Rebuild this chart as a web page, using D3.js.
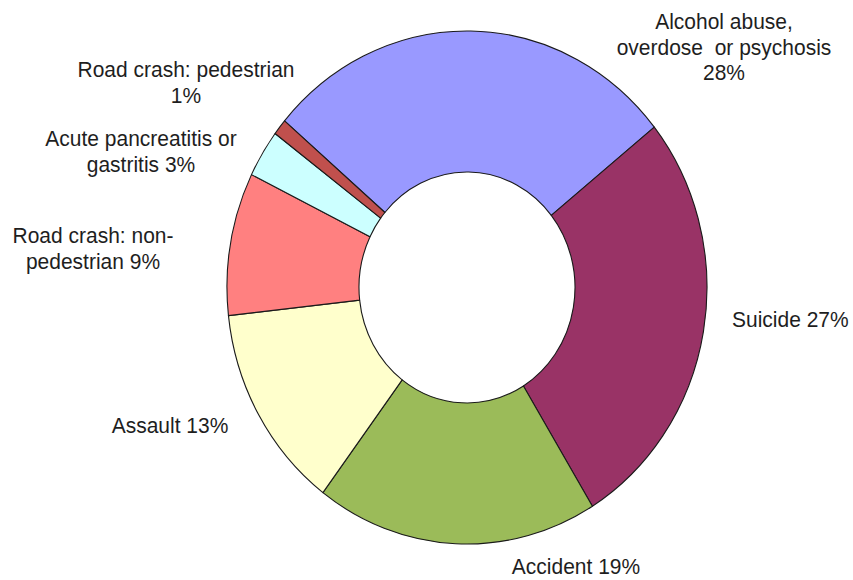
<!DOCTYPE html>
<html>
<head>
<meta charset="utf-8">
<script src="https://cdn.jsdelivr.net/npm/d3@7"></script>
<style>
  html, body { margin: 0; padding: 0; background: #ffffff; }
  svg { display: block; }
  text { font-family: "Liberation Sans", Arial, sans-serif; fill: #1e1e1e; white-space: pre; }
</style>
</head>
<body>
<div id="chart"></div>
<script>
// Causes of death, share of cases (%)
const categories = [
  "Alcohol abuse, overdose or psychosis",
  "Suicide",
  "Accident",
  "Assault",
  "Road crash: non-pedestrian",
  "Acute pancreatitis or gastritis",
  "Road crash: pedestrian"
];
const shares = [28, 27, 19, 13, 9, 3, 1];
const sliceColors = ["#9999ff", "#993366", "#9bbb59", "#ffffcc", "#ff8080", "#ccffff", "#c0504d"];

// Label wording per slice; {v} is replaced by the slice's share
const labelTemplates = [
  ["Alcohol abuse,", "overdose  or psychosis", "{v}%"],
  ["Suicide {v}%"],
  ["Accident {v}%"],
  ["Assault {v}%"],
  ["Road crash: non-", "pedestrian {v}%"],
  ["Acute pancreatitis or", "gastritis {v}%"],
  ["Road crash: pedestrian", "{v}%"]
];

const width = 853, height = 580;
const cx = 467, cy = 287.5;
const outerR = 240, innerR = 108;
const yStretch = 1.069;     // the ring is drawn slightly taller than wide
const fontSize = 21;
const lineGap = 25.6;

// Label anchor points: x, first baseline y, text-anchor
const labelLayout = [
  { x: 724, y: 29, anchor: "middle" },
  { x: 732, y: 327, anchor: "start" },
  { x: 576, y: 574, anchor: "middle" },
  { x: 170, y: 433, anchor: "middle" },
  { x: 93, y: 243, anchor: "middle" },
  { x: 141, y: 146, anchor: "middle" },
  { x: 186, y: 77, anchor: "middle" }
];

const svg = d3.select("#chart").append("svg")
  .attr("width", width)
  .attr("height", height);

const startDeg = -49.5;
const pie = d3.pie()
  .sort(null)
  .value(d => d)
  .startAngle(startDeg * Math.PI / 180)
  .endAngle((startDeg + 360) * Math.PI / 180);

const arc = d3.arc().innerRadius(innerR).outerRadius(outerR);

const ring = svg.append("g")
  .attr("transform", `translate(${cx},${cy}) scale(1,${yStretch})`);

ring.selectAll("path")
  .data(pie(shares))
  .join("path")
  .attr("d", arc)
  .attr("fill", (d, i) => sliceColors[i])
  .attr("stroke", "#1a1a1a")
  .attr("stroke-width", 1.1)
  .attr("stroke-linejoin", "round")
  .attr("vector-effect", "non-scaling-stroke");

// Data labels
const labels = svg.append("g").attr("font-size", fontSize);
labelTemplates.forEach((lines, i) => {
  const pos = labelLayout[i];
  const t = labels.append("text")
    .attr("text-anchor", pos.anchor)
    .attr("transform", `translate(${pos.x},${pos.y}) scale(1,${yStretch})`);
  lines.forEach((ln, k) => {
    t.append("tspan")
      .attr("x", 0)
      .attr("y", k * lineGap / yStretch)
      .text(ln.replace("{v}", shares[i]));
  });
});
</script>
</body>
</html>
